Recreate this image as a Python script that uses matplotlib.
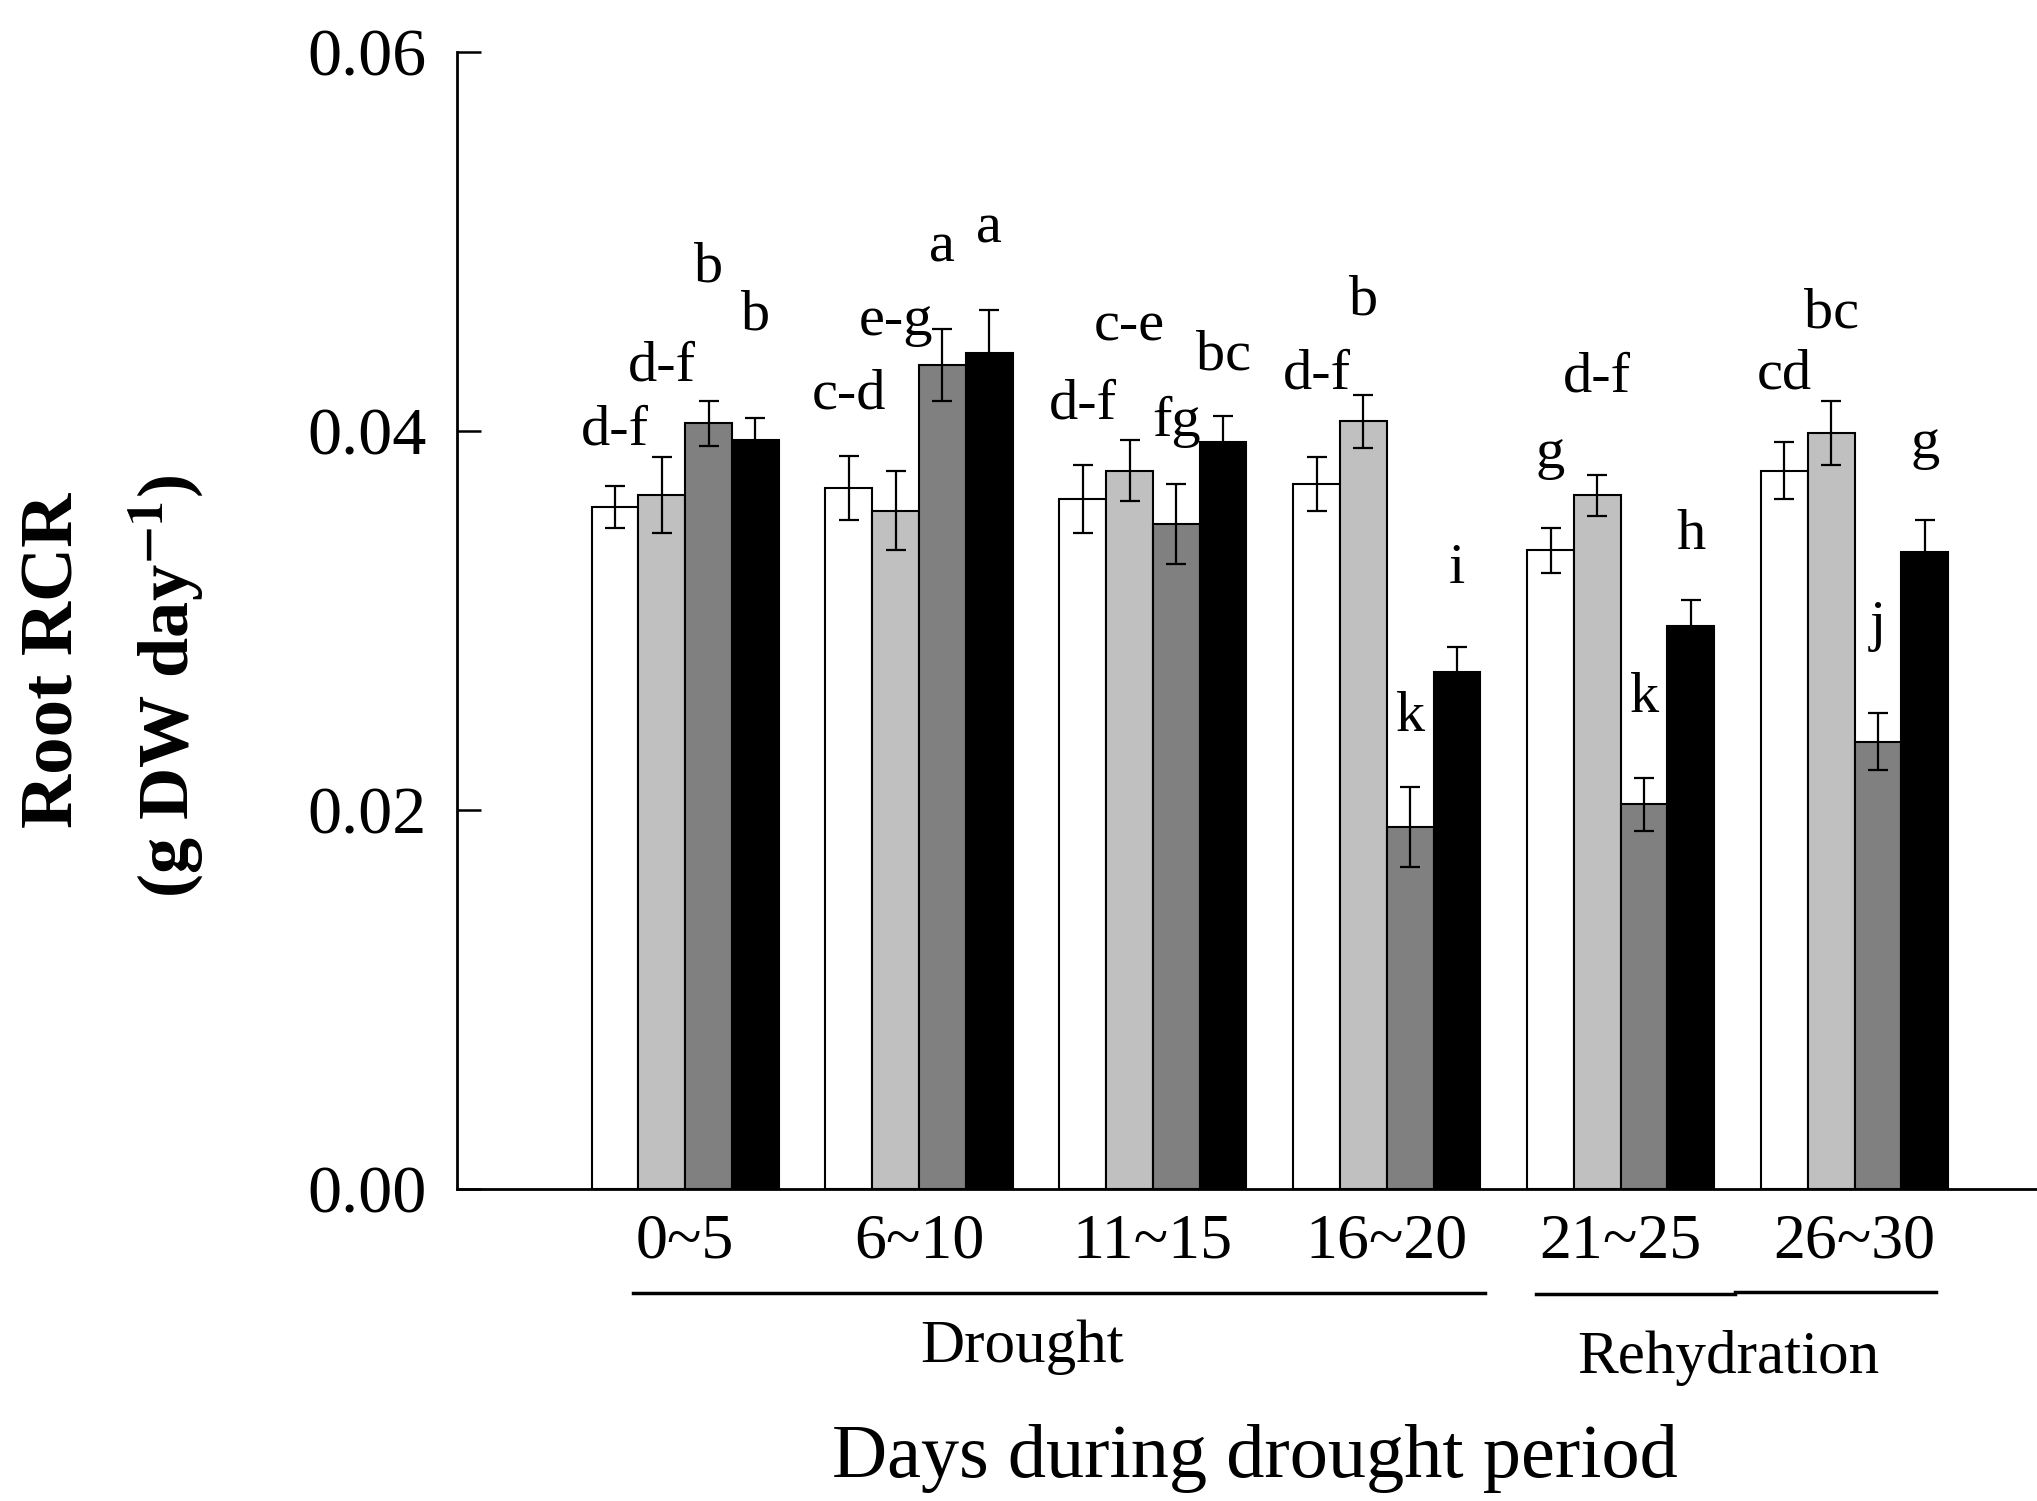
import matplotlib.pyplot as plt
import numpy as np
from matplotlib.transforms import blended_transform_factory

plt.rcParams['font.family'] = ['Liberation Serif', 'DejaVu Serif']
plt.rcParams['mathtext.fontset'] = 'stix'

##### data: root RCR by period, four treatments
periods = ['0~5', '6~10', '11~15', '16~20', '21~25', '26~30']

t1_mean = [0.0360, 0.0370, 0.0364, 0.0372, 0.0337, 0.0379]
t1_err = [0.0011, 0.0017, 0.0018, 0.0014, 0.0012, 0.0015]
t2_mean = [0.0366, 0.0358, 0.0379, 0.0405, 0.0366, 0.0399]
t2_err = [0.0020, 0.0021, 0.0016, 0.0014, 0.0011, 0.0017]
t3_mean = [0.0404, 0.0435, 0.0351, 0.0191, 0.0203, 0.0236]
t3_err = [0.0012, 0.0019, 0.0021, 0.0021, 0.0014, 0.0015]
t4_mean = [0.0395, 0.0441, 0.0394, 0.0273, 0.0297, 0.0336]
t4_err = [0.0012, 0.0023, 0.0014, 0.0013, 0.0014, 0.0017]

# significance letters and the height they are written at
t1_letters = ['d-f', 'c-d', 'd-f', 'd-f', 'g', 'cd']
t1_letter_y = [0.0400, 0.0419, 0.0414, 0.0430, 0.0388, 0.0430]
t2_letters = ['d-f', 'e-g', 'c-e', 'b', 'd-f', 'bc']
t2_letter_y = [0.0434, 0.0458, 0.0455, 0.0469, 0.0428, 0.0462]
t3_letters = ['b', 'a', 'fg', 'k', 'k', 'j']
t3_letter_y = [0.0486, 0.0497, 0.0405, 0.0249, 0.0259, 0.0297]
t4_letters = ['b', 'a', 'bc', 'i', 'h', 'g']
t4_letter_y = [0.0461, 0.0507, 0.0440, 0.0327, 0.0345, 0.0393]

series = [
    (t1_mean, t1_err, t1_letters, t1_letter_y, 'white'),
    (t2_mean, t2_err, t2_letters, t2_letter_y, '#c0c0c0'),
    (t3_mean, t3_err, t3_letters, t3_letter_y, '#808080'),
    (t4_mean, t4_err, t4_letters, t4_letter_y, 'black'),
]

fig = plt.figure(figsize=(20.37, 15.01), dpi=100)
ax = fig.add_axes([0.2244, 0.2079, 0.7756, 0.7575])

x = np.arange(len(periods))
w = 0.2
for i, (m, e, lets, ly, col) in enumerate(series):
    xs = x + (i - 1.5) * w
    ax.bar(xs, m, width=w, color=col, edgecolor='black', linewidth=1.5, zorder=2)
    ax.errorbar(xs, m, yerr=e, fmt='none', ecolor='black', elinewidth=1.6,
                capsize=7, capthick=1.6, zorder=3)
    for xi, t, yy in zip(xs, lets, ly):
        ax.text(xi, yy, t, ha='center', va='center', fontsize=42)

ax.set_ylim(0, 0.06)
ax.set_xlim(-0.975, 5.78)
ax.set_yticks([0.00, 0.02, 0.04, 0.06])
ax.set_yticklabels(['0.00', '0.02', '0.04', '0.06'])
ax.set_xticks(x)
ax.set_xticklabels(periods, fontsize=46)
ax.tick_params(axis='x', length=0, pad=18)
ax.tick_params(axis='y', direction='in', length=17, width=1.8, labelsize=49, pad=22)

for s in ['top', 'right']:
    ax.spines[s].set_visible(False)
ax.spines['left'].set_linewidth(2)
ax.spines['bottom'].set_linewidth(2)

##### period brackets under the tick labels
trans = blended_transform_factory(ax.transData, ax.transAxes)
ax.plot([-0.225, 3.42], [-0.0914, -0.0914], color='black', lw=2.5,
        transform=trans, clip_on=False)
ax.plot([3.64, 4.49], [-0.0924, -0.0924], color='black', lw=2.5,
        transform=trans, clip_on=False)
ax.plot([4.49, 5.35], [-0.0904, -0.0904], color='black', lw=2.5,
        transform=trans, clip_on=False)
ax.text(1.44, -0.139, 'Drought', transform=trans, ha='center', va='center', fontsize=44)
ax.text(4.46, -0.149, 'Rehydration', transform=trans, ha='center', va='center', fontsize=44)
ax.text(2.436, -0.237, 'Days during drought period', transform=trans,
        ha='center', va='center', fontsize=55)

##### y label, two lines
fig.text(0.027, 0.560, 'Root RCR', rotation=90, ha='center', va='center',
         fontsize=54, fontweight='bold')
fig.text(0.0816, 0.543, r'(g DW day$^{\mathbf{-1}}$)', rotation=90, ha='center',
         va='center', fontsize=52, fontweight='bold')

fig.savefig('out.png', dpi=100)
